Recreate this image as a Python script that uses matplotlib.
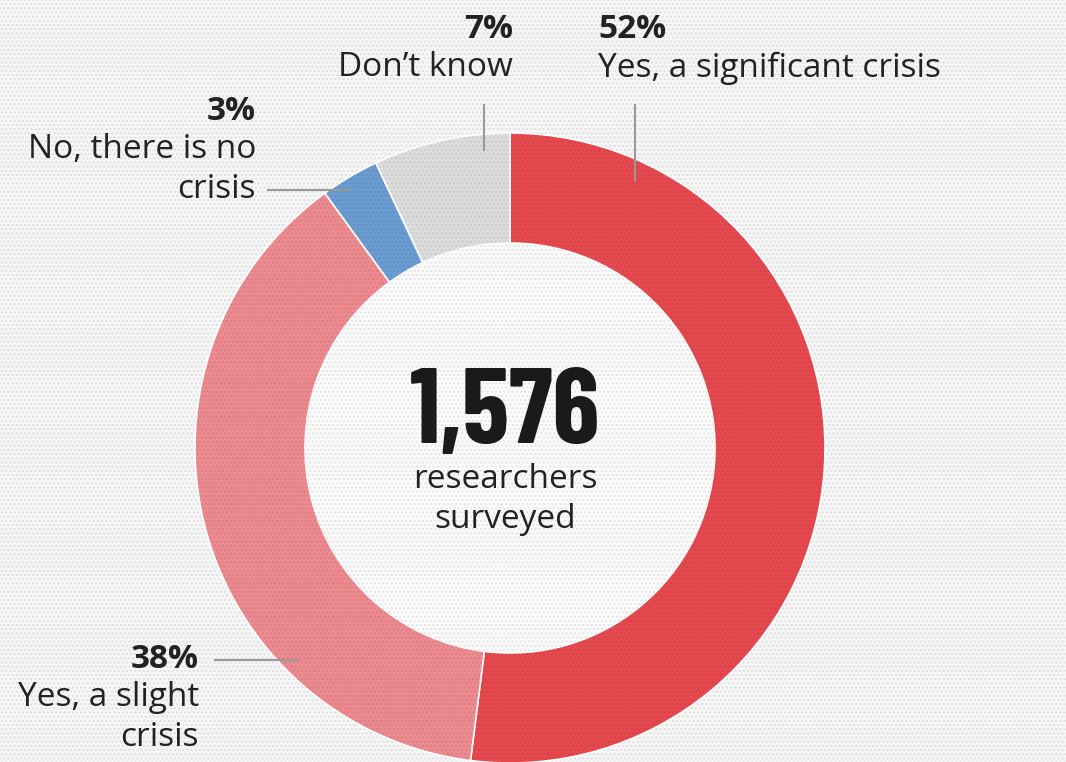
import matplotlib.pyplot as plt
from matplotlib.patches import Rectangle

# survey answers, clockwise from 12 o'clock
labels = ['Yes, a significant crisis', 'Yes, a slight crisis', 'No, there is no crisis', "Don't know"]
shares = [52, 38, 3, 7]
colors = ['#e5494f', '#ec8a8f', '#6b9cd1', '#dcdcdc']
total_surveyed = '1,576'

W, H = 1066, 762
fig = plt.figure(figsize=(W / 100, H / 100), dpi=100)
ax = fig.add_axes([0, 0, 1, 1])

# dotted background
ax.add_patch(Rectangle((0, 0), W, H, facecolor='#f6f6f6', edgecolor='#dedede',
                       hatch='....', linewidth=0, zorder=0))

cx, cy = 510, H - 448
r_out, ring = 315, 110

wedges, _ = ax.pie(shares, colors=colors, startangle=90, counterclock=False,
                   center=(cx, cy), radius=r_out, frame=True,
                   wedgeprops=dict(width=ring, edgecolor='white', linewidth=1.2))
# same ring again, only the dot texture
dots, _ = ax.pie(shares, colors=['none'] * len(shares), startangle=90, counterclock=False,
                 center=(cx, cy), radius=r_out, frame=True,
                 wedgeprops=dict(width=ring, edgecolor=(0, 0, 0, 0.07), linewidth=0, hatch='....'))
ax.set_xlim(0, W)
ax.set_ylim(0, H)
ax.set_aspect('equal')
ax.axis('off')
# inner disc, lighter dots
inner = plt.Circle((cx, cy), r_out - ring, facecolor='#fbfbfb', edgecolor='#e4e4e4',
                   hatch='....', linewidth=0, zorder=1)
ax.add_patch(inner)

font = 'Open Sans'
fs = 24
lc = '#999999'
dark = '#222222'

def y(p):
    return H - p

# 52%
ax.text(598, y(30), f'{shares[0]}%', ha='left', va='center', fontsize=fs, fontweight='bold', color=dark, family=font)
ax.text(598, y(68), 'Yes, a significant crisis', ha='left', va='center', fontsize=fs, color=dark, family=font)
ax.plot([635, 635], [y(105), y(180)], color=lc, lw=1.5, zorder=3)

# 7%
ax.text(513, y(30), f'{shares[3]}%', ha='right', va='center', fontsize=fs, fontweight='bold', color=dark, family=font)
ax.text(513, y(68), "Don\u2019t know", ha='right', va='center', fontsize=fs, color=dark, family=font)
ax.plot([484, 484], [y(105), y(150)], color=lc, lw=1.5, zorder=3)

# 3%
ax.text(256, y(112), f'{shares[2]}%', ha='right', va='center', fontsize=fs, fontweight='bold', color=dark, family=font)
ax.text(256, y(150), 'No, there is no', ha='right', va='center', fontsize=fs, color=dark, family=font)
ax.text(256, y(189), 'crisis', ha='right', va='center', fontsize=fs, color=dark, family=font)
ax.plot([268, 350], [y(190), y(190)], color=lc, lw=1.5, zorder=3)

# 38%
ax.text(199, y(660), f'{shares[1]}%', ha='right', va='center', fontsize=fs, fontweight='bold', color=dark, family=font)
ax.text(199, y(698), 'Yes, a slight', ha='right', va='center', fontsize=fs, color=dark, family=font)
ax.text(199, y(738), 'crisis', ha='right', va='center', fontsize=fs, color=dark, family=font)
ax.plot([215, 298], [y(660), y(660)], color=lc, lw=1.5, zorder=3)

# centre
ax.text(cx - 5, y(416), total_surveyed, ha='center', va='center', fontsize=77, fontweight='bold',
        color='#1a1a1a', family=['Barlow Condensed', 'DejaVu Sans'], zorder=4)
ax.text(cx - 5, y(480), 'researchers', ha='center', va='center', fontsize=fs, color=dark, family=font, zorder=4)
ax.text(cx - 5, y(519), 'surveyed', ha='center', va='center', fontsize=fs, color=dark, family=font, zorder=4)

fig.savefig('out.png', dpi=100)
